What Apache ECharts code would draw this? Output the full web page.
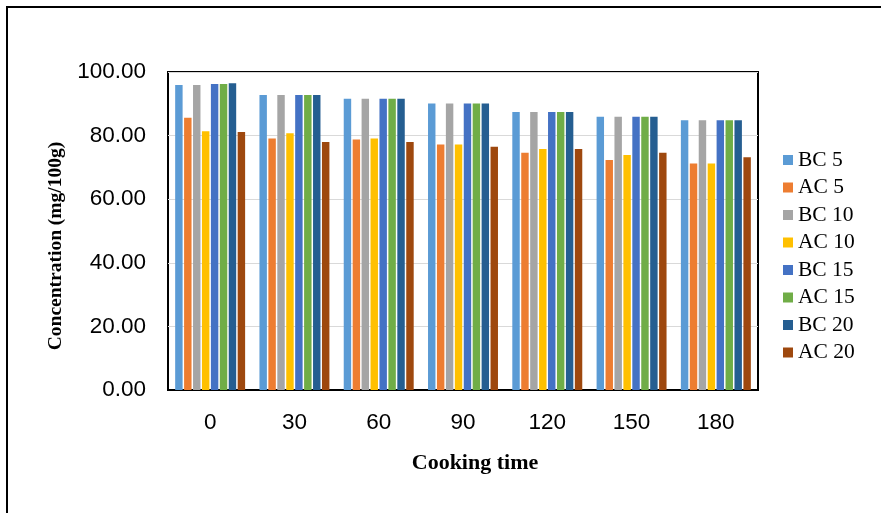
<!DOCTYPE html>
<html><head><meta charset="utf-8">
<script src="https://cdn.jsdelivr.net/npm/echarts@6/dist/echarts.min.js"></script>
<style>html,body{margin:0;padding:0;background:#fff}#c{width:881px;height:513px}</style>
</head><body><div id="c"></div>
<script>
const categories = ['0','30','60','90','120','150','180'];
const seriesNames = ['BC 5','AC 5','BC 10','AC 10','BC 15','AC 15','BC 20','AC 20'];
const bc5  = [95.9, 92.8, 91.6, 90.1, 87.4, 85.9, 84.8];
const ac5  = [85.6, 79.1, 78.8, 77.2, 74.6, 72.3, 71.2];
const bc10 = [95.9, 92.8, 91.6, 90.1, 87.4, 85.9, 84.8];
const ac10 = [81.4, 80.7, 79.1, 77.2, 75.8, 73.9, 71.2];
const bc15 = [96.2, 92.8, 91.6, 90.1, 87.4, 85.9, 84.8];
const ac15 = [96.2, 92.8, 91.6, 90.1, 87.4, 85.9, 84.8];
const bc20 = [96.5, 92.8, 91.6, 90.1, 87.4, 85.9, 84.8];
const ac20 = [81.1, 78.0, 78.0, 76.5, 75.8, 74.6, 73.2];
const yTicks = [0, 20, 40, 60, 80, 100];
const colors = ['#5B9BD5','#ED7D31','#A5A5A5','#FFC000','#4472C4','#70AD47','#255E91','#9E480E'];
const allData = [bc5, ac5, bc10, ac10, bc15, ac15, bc20, ac20];

const chart = echarts.init(document.getElementById('c'));
chart.setOption({
  backgroundColor: '#fff',
  animation: false,
  color: colors,
  graphic: [{
    type: 'rect', shape: {x: 7, y: 7, width: 1000, height: 700},
    style: {fill: 'none', stroke: '#000', lineWidth: 2}, z: 100
  }],
  grid: {left: 168, right: 123, top: 72, bottom: 123, show: true, borderColor: '#000', borderWidth: 2, backgroundColor: 'transparent'},
  legend: {
    orient: 'vertical', left: 778, top: 144,
    itemWidth: 10, itemHeight: 10, itemGap: 5.5,
    icon: 'rect',
    textStyle: {fontFamily: 'Liberation Serif', fontSize: 21.5, color: '#000', lineHeight: 21},
    data: seriesNames
  },
  xAxis: {
    type: 'category', data: categories,
    axisTick: {show: false},
    axisLine: {lineStyle: {color: '#000', width: 2}},
    axisLabel: {fontFamily: 'Liberation Sans', fontSize: 22.5, color: '#000', margin: 21},
    name: 'Cooking time', nameLocation: 'middle', nameGap: 62,
    nameTextStyle: {fontFamily: 'Liberation Serif', fontWeight: 'bold', fontSize: 22, color: '#000', padding: [0, 0, 0, 24]}
  },
  yAxis: {
    type: 'value', min: yTicks[0], max: yTicks[yTicks.length-1], interval: 20,
    axisLine: {show: false}, axisTick: {show: false},
    splitLine: {lineStyle: {color: '#d9d9d9', width: 1}},
    axisLabel: {fontFamily: 'Liberation Sans', fontSize: 22.5, color: '#000', margin: 22,
      formatter: v => v.toFixed(2)},
    name: 'Concentration (mg/100g)', nameLocation: 'middle', nameGap: 101,
    nameTextStyle: {fontFamily: 'Liberation Serif', fontWeight: 'bold', fontSize: 19.5, color: '#000', padding: [0, 30, 0, 0]}
  },
  series: seriesNames.map((n, i) => ({
    name: n, type: 'bar', data: allData[i],
    barGap: '20%', barCategoryGap: '17%',
    itemStyle: {color: colors[i]}
  }))
});
</script></body></html>
